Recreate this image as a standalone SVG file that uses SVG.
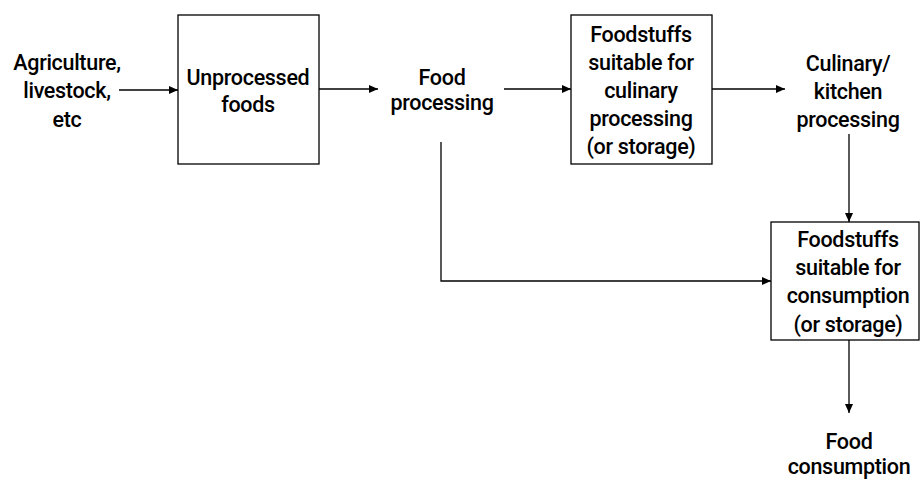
<svg xmlns="http://www.w3.org/2000/svg" width="920" height="480" viewBox="0 0 920 480">
<style>
.box{fill:#fff;stroke:#000;stroke-width:1.3}
.lbl{font-family:Roboto,"Liberation Sans",Arial,sans-serif;font-weight:500;font-size:21.5px;fill:#000;text-anchor:middle;letter-spacing:-0.3px}
.edge{fill:none;stroke:#000;stroke-width:1.3}
</style>
<defs>
<marker id="ah" markerWidth="10" markerHeight="8" refX="9" refY="4" orient="auto" markerUnits="userSpaceOnUse">
<path d="M0,0 L9,4 L0,8 Z" fill="#000"/>
</marker>
</defs>
<rect width="920" height="480" fill="#fff"/>
<g id="connectors">
<line class="edge" x1="119" y1="90" x2="178" y2="90" marker-end="url(#ah)"/>
<line class="edge" x1="319" y1="89" x2="378" y2="89" marker-end="url(#ah)"/>
<line class="edge" x1="504" y1="89" x2="571" y2="89" marker-end="url(#ah)"/>
<line class="edge" x1="712" y1="89" x2="785" y2="89" marker-end="url(#ah)"/>
<line class="edge" x1="849" y1="134" x2="849" y2="222" marker-end="url(#ah)"/>
<polyline class="edge" points="441,142 441,281 771,281" marker-end="url(#ah)"/>
<line class="edge" x1="849" y1="340" x2="849" y2="413" marker-end="url(#ah)"/>
</g>
<g id="agriculture">
<text class="lbl" x="67" y="70">Agriculture,</text>
<text class="lbl" x="67" y="98">livestock,</text>
<text class="lbl" x="67" y="127">etc</text>
</g>
<g id="unprocessed">
<rect class="box" x="178" y="15" width="141" height="149"/>
<text class="lbl" x="248" y="85">Unprocessed</text>
<text class="lbl" x="248" y="112">foods</text>
</g>
<g id="food-processing">
<text class="lbl" x="442" y="85">Food</text>
<text class="lbl" x="442" y="110">processing</text>
</g>
<g id="foodstuffs-culinary">
<rect class="box" x="571" y="15" width="141" height="149"/>
<text class="lbl" x="641" y="42">Foodstuffs</text>
<text class="lbl" x="641" y="70">suitable for</text>
<text class="lbl" x="641" y="98">culinary</text>
<text class="lbl" x="641" y="126">processing</text>
<text class="lbl" x="641" y="154">(or storage)</text>
</g>
<g id="culinary-processing">
<text class="lbl" x="848" y="71">Culinary/</text>
<text class="lbl" x="848" y="99">kitchen</text>
<text class="lbl" x="848" y="127">processing</text>
</g>
<g id="foodstuffs-consumption">
<rect class="box" x="771" y="222" width="148" height="118"/>
<text class="lbl" x="848" y="247">Foodstuffs</text>
<text class="lbl" x="848" y="275">suitable for</text>
<text class="lbl" x="848" y="303">consumption</text>
<text class="lbl" x="848" y="332">(or storage)</text>
</g>
<g id="food-consumption">
<text class="lbl" x="849" y="449">Food</text>
<text class="lbl" x="849" y="474">consumption</text>
</g>
</svg>
